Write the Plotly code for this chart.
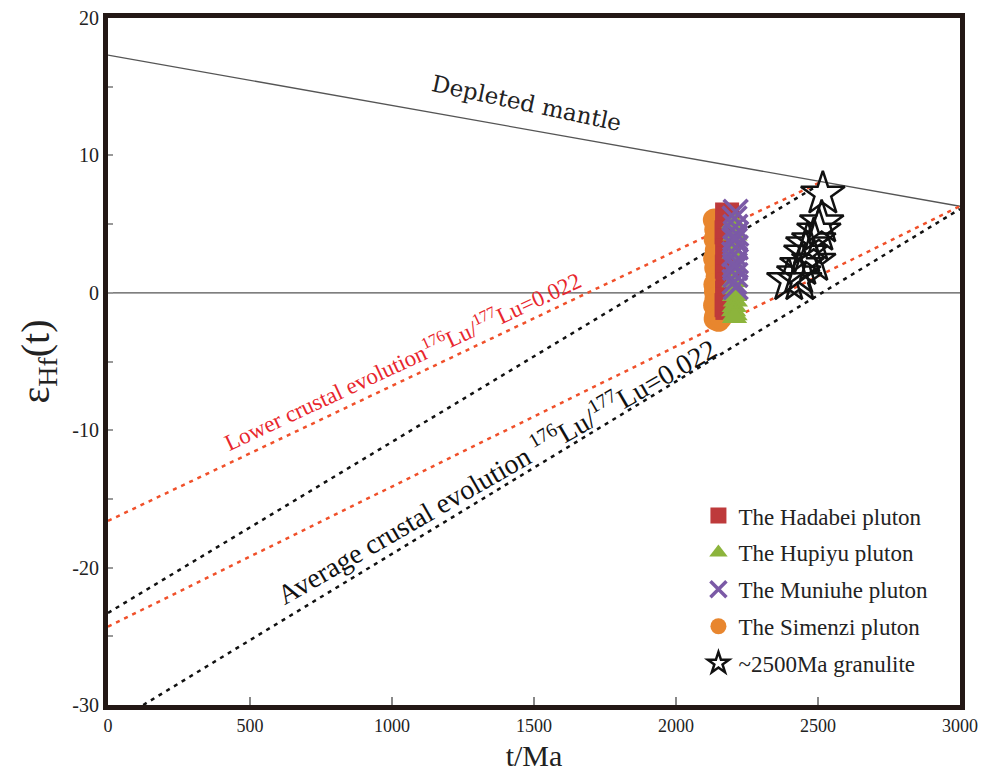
import plotly.graph_objects as go

# ---- reference lines (t in Ma, epsilon Hf) ----
dm_t = [0, 3000]
dm_e = [17.3, 6.3]
zero_t = [0, 3000]
zero_e = [0, 0]
lower1_t = [0, 2513]
lower1_e = [-16.6, 8.1]
lower2_t = [0, 3000]
lower2_e = [-24.3, 6.3]
avg1_t = [0, 2490]
avg1_e = [-23.3, 7.7]
avg2_t = [124, 3000]
avg2_e = [-30.0, 6.1]

# ---- zircon data ----
simenzi_t = [2135, 2140, 2138, 2142, 2136, 2140, 2145, 2137, 2139, 2141, 2136, 2143, 2140, 2138, 2150, 2158]
simenzi_e = [5.3, 4.6, 3.9, 3.1, 2.5, 1.8, 1.2, 0.6, 0.1, -0.4, -0.9, -1.3, -1.7, -1.9, -2.0, -1.8]

hadabei_t = [2180, 2182, 2178, 2185, 2180, 2183, 2179, 2181, 2184, 2180, 2182, 2178, 2181]
hadabei_e = [5.7, 5.1, 4.4, 3.8, 3.1, 2.5, 1.9, 1.2, 0.6, 0.0, -0.5, -0.9, -1.1]

hupiyu_t = [2203, 2208, 2205, 2210, 2204, 2207, 2206, 2209, 2205, 2203, 2208, 2206]
hupiyu_e = [5.1, 4.2, 2.9, 1.8, 0.8, 0.3, -0.2, -0.6, -1.0, -1.3, -1.6, -1.8]

muniuhe_t = [2210, 2206, 2209, 2212, 2207, 2210, 2205, 2211, 2208, 2209, 2206, 2210, 2208, 2207]
muniuhe_e = [5.9, 5.4, 4.8, 4.3, 3.8, 3.3, 2.8, 2.3, 1.8, 1.3, 0.8, 0.4, 4.0, 2.0]

granulite_t = [2517, 2513, 2503, 2485, 2464, 2457, 2485, 2443, 2432, 2397, 2436]
granulite_e = [7.2, 5.1, 4.5, 3.8, 3.5, 2.9, 2.3, 2.0, 1.4, 0.9, 0.9]

x_ticks = [0, 500, 1000, 1500, 2000, 2500, 3000]
y_ticks = [-30, -20, -10, 0, 10, 20]

SERIF = "Liberation Serif"
RED_LINE = "#f0502a"
FRAME = "#231815"

fig = go.Figure()

def add_line(t, e, color, width, dash):
    fig.add_trace(go.Scatter(x=t, y=e, mode="lines", showlegend=False,
                             line=dict(color=color, width=width, dash=dash),
                             hoverinfo="skip"))

add_line(dm_t, dm_e, "#555555", 1.3, "solid")
add_line(zero_t, zero_e, "#555555", 1.3, "solid")
add_line(lower1_t, lower1_e, RED_LINE, 2.5, "4px,5px")
add_line(lower2_t, lower2_e, RED_LINE, 2.5, "4px,5px")
add_line(avg1_t, avg1_e, "#111111", 2.5, "4px,5px")
add_line(avg2_t, avg2_e, "#111111", 2.5, "4px,5px")

fig.add_trace(go.Scatter(x=simenzi_t, y=simenzi_e, mode="markers", name="The Simenzi pluton",
                         legendrank=4, legendgroup="d",
                         marker=dict(symbol="circle", size=23, color="#e8862e")))
fig.add_trace(go.Scatter(x=hadabei_t, y=hadabei_e, mode="markers", name="The Hadabei pluton",
                         legendrank=1, legendgroup="a",
                         marker=dict(symbol="square", size=24, color="#be3a3b")))
fig.add_trace(go.Scatter(x=hupiyu_t, y=hupiyu_e, mode="markers", name="The Hupiyu pluton",
                         legendrank=2, legendgroup="b",
                         marker=dict(symbol="triangle-up", size=22, color="#8cb43c")))
fig.add_trace(go.Scatter(x=muniuhe_t, y=muniuhe_e, mode="markers", name="The Muniuhe pluton",
                         legendrank=3, legendgroup="c",
                         marker=dict(symbol="x-thin", size=24, color="#7b5aa6",
                                     line=dict(color="#7b5aa6", width=3.5))))
fig.add_trace(go.Scatter(x=granulite_t, y=granulite_e, mode="markers", name="~2500Ma granulite",
                         legendrank=5, legendgroup="e",
                         marker=dict(symbol="star-open", size=33, color="#111111",
                                     line=dict(color="#111111", width=2.5))))

fig.add_annotation(x=1472, y=13.8, text="Depleted mantle", showarrow=False, textangle=12,
                   font=dict(family="DejaVu Serif", size=23, color="#222222"))
fig.add_annotation(x=1035, y=-4.9,
                   text="Lower crustal evolution<sup>176</sup>Lu/<sup>177</sup>Lu=0.022",
                   showarrow=False, textangle=-25,
                   font=dict(family=SERIF, size=23, color="#e8262d"))
fig.add_annotation(x=1365, y=-12.9,
                   text="Average crustal evolution <sup>176</sup>Lu/<sup>177</sup>Lu=0.022",
                   showarrow=False, textangle=-30,
                   font=dict(family=SERIF, size=28, color="#111111"))

fig.update_layout(
    width=989, height=777,
    margin=dict(l=100, r=37, t=10, b=80),
    paper_bgcolor="white", plot_bgcolor="white",
    font=dict(family=SERIF, color="#222222"),
    legend=dict(x=0.693, y=0.307, xanchor="left", yanchor="top",
                bgcolor="rgba(0,0,0,0)", font=dict(family=SERIF, size=23, color="#222222"),
                tracegroupgap=4, itemsizing="trace"),
    xaxis=dict(range=[0, 3000], tickvals=x_ticks, ticktext=[str(v) for v in x_ticks],
               showgrid=False, zeroline=False, showline=True, linewidth=5, linecolor=FRAME,
               mirror=True, ticks="inside", ticklen=8, tickcolor="#888888", tickwidth=1.5,
               automargin=False, ticklabeloverflow="allow",
               tickfont=dict(family=SERIF, size=18, color="#222222"),
               title=dict(text="t/Ma", font=dict(family=SERIF, size=30, color="#222222"), standoff=12)),
    yaxis=dict(range=[-30, 20], tickvals=y_ticks, ticktext=[str(v) for v in y_ticks],
               showgrid=False, zeroline=False, showline=True, linewidth=5, linecolor=FRAME,
               mirror=True, ticks="inside", ticklen=5, tickcolor="#999999", tickwidth=1.5,
               automargin=False, ticklabeloverflow="allow",
               minor=dict(dtick=5, tick0=0, ticks="inside", ticklen=5, tickcolor="#999999"),
               tickfont=dict(family=SERIF, size=20, color="#222222"),
               title=dict(text="ε<sub>Hf</sub>(t)", font=dict(family=SERIF, size=40, color="#222222"),
                          standoff=12)),
)

fig.write_html("out.html")
